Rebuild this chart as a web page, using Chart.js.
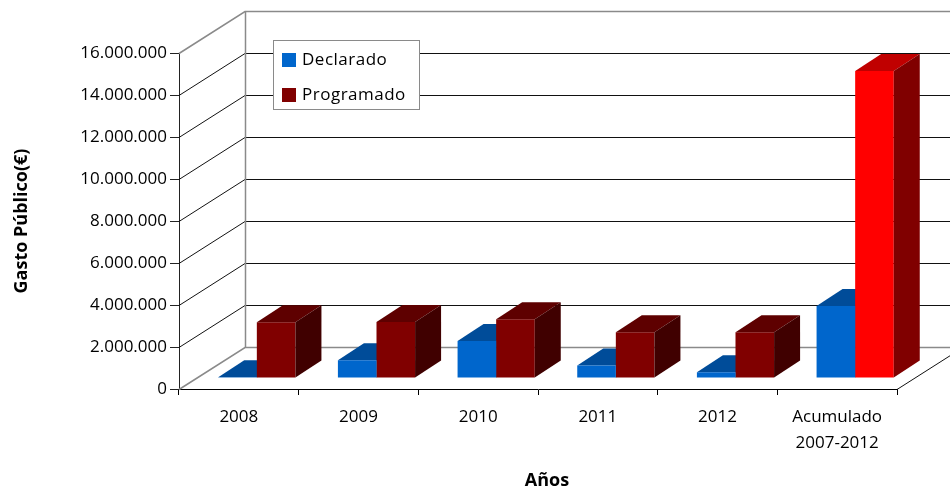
<!DOCTYPE html>
<html>
<head>
<meta charset="utf-8">
<script src="https://cdn.jsdelivr.net/npm/chart.js@4"></script>
<style>
  body { margin: 0; background: #fff; }
</style>
</head>
<body>
<canvas id="gastoChart" width="950" height="490"></canvas>
<script>
/** Data (euros) */
const categories = ['2008', '2009', '2010', '2011', '2012', ['Acumulado', '2007-2012']];
const declarado = [40000, 840000, 1760000, 590000, 270000, 3430000];
const programado = [2650000, 2670000, 2800000, 2180000, 2180000, 14620000];
const yMin = 0, yMax = 16000000, yStep = 2000000;

/** 3D look: wall depth, where the bar fronts sit, and bar depth */
const WALL = { dx: 66, dy: 42 };
const PLANE = { dx: 18, dy: 11 };
const BAR = { dx: 26, dy: 17 };

const colors = {
    declarado: { front: '#0066CC', top: '#004C99', side: '#003A75' },
    programado: { front: '#800000', top: '#5E0000', side: '#400000' },
    acumulado: { front: '#FF0000', top: '#C00000', side: '#800000' }
};
const lastIdx = categories.length - 1;

Chart.defaults.font.family = "'Open Sans', sans-serif";
Chart.defaults.color = '#000';

function drawDepth(ctx, bar, c) {
    const { x, y, base, width } = bar.getProps(['x', 'y', 'base', 'width'], true);
    const l = x - width / 2, r = x + width / 2;
    // top face
    ctx.fillStyle = c.top;
    ctx.beginPath();
    ctx.moveTo(l, y);
    ctx.lineTo(r, y);
    ctx.lineTo(r + BAR.dx, y - BAR.dy);
    ctx.lineTo(l + BAR.dx, y - BAR.dy);
    ctx.closePath();
    ctx.fill();
    // side face
    ctx.fillStyle = c.side;
    ctx.beginPath();
    ctx.moveTo(r, y);
    ctx.lineTo(r + BAR.dx, y - BAR.dy);
    ctx.lineTo(r + BAR.dx, base - BAR.dy);
    ctx.lineTo(r, base);
    ctx.closePath();
    ctx.fill();
}

const threeD = {
    id: 'threeD',
    beforeDatasetsDraw(chart) {
        const { ctx, chartArea: a, scales: { y } } = chart;
        ctx.save();
        ctx.lineWidth = 1;
        // left side wall + back wall grid lines
        y.ticks.forEach(t => {
            const py = Math.round(y.getPixelForValue(t.value)) + 0.5;
            const edge = t.value === yMin || t.value === yMax;
            ctx.strokeStyle = edge ? '#8a8a8a' : '#111';
            ctx.lineWidth = edge ? 1.5 : 1;
            ctx.beginPath();
            ctx.moveTo(a.left, py);
            ctx.lineTo(a.left + WALL.dx, py - WALL.dy);
            ctx.lineTo(a.right + WALL.dx, py - WALL.dy);
            ctx.stroke();
        });
        // back wall corner
        ctx.strokeStyle = '#8a8a8a';
        ctx.lineWidth = 1.5;
        ctx.beginPath();
        ctx.moveTo(a.left + WALL.dx + 0.5, a.top - WALL.dy);
        ctx.lineTo(a.left + WALL.dx + 0.5, a.bottom - WALL.dy);
        ctx.stroke();
        // right floor edge
        ctx.strokeStyle = '#111';
        ctx.lineWidth = 1;
        ctx.beginPath();
        ctx.moveTo(a.right, a.bottom + 0.5);
        ctx.lineTo(a.right + WALL.dx, a.bottom - WALL.dy + 0.5);
        ctx.stroke();
        ctx.restore();

        // bars sit inside the depth: shift them back
        ctx.save();
        ctx.translate(PLANE.dx, -PLANE.dy);
        // blue depth faces go behind the red fronts
        chart.getDatasetMeta(0).data.forEach(bar => drawDepth(ctx, bar, colors.declarado));
    },
    afterDatasetsDraw(chart) {
        const { ctx } = chart;
        chart.getDatasetMeta(1).data.forEach((bar, i) => {
            drawDepth(ctx, bar, i === lastIdx ? colors.acumulado : colors.programado);
        });
        ctx.restore();
    },
    afterDraw(chart) {
        const { ctx, chartArea: a } = chart;
        ctx.save();
        // legend box
        const box = { x: a.left + 94, y: a.top - 13, w: 146, h: 69 };
        ctx.fillStyle = '#fff';
        ctx.fillRect(box.x, box.y, box.w, box.h);
        ctx.strokeStyle = '#8a8a8a';
        ctx.lineWidth = 1;
        ctx.strokeRect(box.x + 0.5, box.y + 0.5, box.w, box.h);
        ctx.font = "17px 'Open Sans', sans-serif";
        ctx.letterSpacing = '0.5px';
        ctx.textBaseline = 'middle';
        chart.data.datasets.forEach((ds, i) => {
            const cy = box.y + 20 + i * 35;
            ctx.fillStyle = ds.legendColor;
            ctx.fillRect(box.x + 9, cy - 7, 14, 14);
            ctx.fillStyle = '#000';
            ctx.fillText(ds.label, box.x + 29, cy);
        });
        ctx.letterSpacing = '0px';
        // x axis title
        ctx.font = "bold 18px 'Open Sans', sans-serif";
        ctx.textAlign = 'center';
        ctx.fillText('Años', (a.left + a.right) / 2 + 9, 481);
        ctx.restore();
    }
};

new Chart(document.getElementById('gastoChart'), {
    type: 'bar',
    data: {
        labels: categories,
        datasets: [
            {
                label: 'Declarado',
                data: declarado,
                backgroundColor: colors.declarado.front,
                legendColor: colors.declarado.front
            },
            {
                label: 'Programado',
                data: programado,
                backgroundColor: ctx => ctx.dataIndex === lastIdx ? colors.acumulado.front : colors.programado.front,
                legendColor: colors.programado.front
            }
        ]
    },
    options: {
        responsive: false,
        animation: false,
        devicePixelRatio: 1,
        layout: { padding: { top: 53, right: 53, bottom: 0, left: 0 } },
        datasets: { bar: { categoryPercentage: 0.645, barPercentage: 1, clip: false } },
        plugins: { legend: { display: false }, tooltip: { enabled: false } },
        scales: {
            x: {
                afterFit: scale => { scale.height = 101; },
                grid: { drawOnChartArea: false, tickLength: 6, color: '#000' },
                border: { color: '#000' },
                ticks: { font: { size: 17, lineHeight: 1.53 }, padding: 9, maxRotation: 0 }
            },
            y: {
                min: yMin, max: yMax,
                afterFit: scale => { scale.width = 179; },
                grid: { drawOnChartArea: false, tickLength: 9, color: '#222' },
                border: { color: '#222' },
                ticks: {
                    stepSize: yStep,
                    padding: 3,
                    font: { size: 17 },
                    callback: v => v.toLocaleString('de-DE')
                },
                title: {
                    display: true,
                    text: 'Gasto Público(€)',
                    font: { size: 18, weight: 'bold' },
                    padding: { top: 11, bottom: 0 }
                }
            }
        }
    },
    plugins: [threeD]
});
</script>
</body>
</html>
